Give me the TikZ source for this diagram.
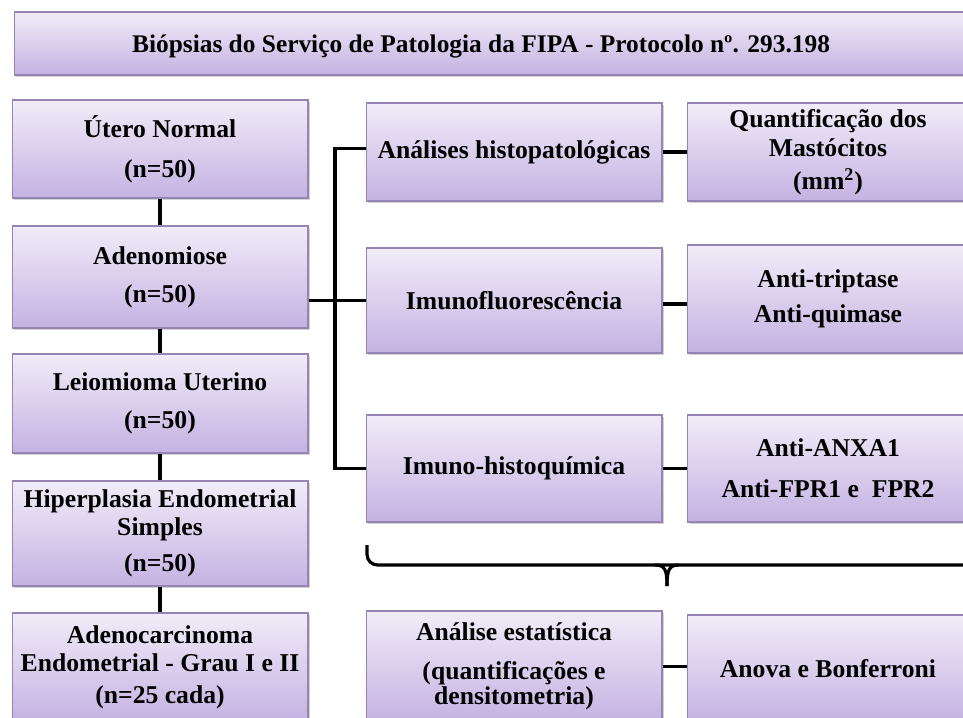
\documentclass[tikz,border=0pt]{standalone}
\usepackage{fontspec}
\setmainfont{Liberation Serif}
\usepackage{xcolor}
\usetikzlibrary{shadows,calc}

\definecolor{lilasclaro}{RGB}{241,236,248}
\definecolor{lilas}{RGB}{196,178,226}
\definecolor{bordalilas}{RGB}{150,132,180}

\tikzset{
  caixa/.style={rectangle, draw=bordalilas, line width=0.6pt,
    top color=lilasclaro, bottom color=lilas, inner sep=0pt, align=center,
    font=\fontsize{14.6}{15.9}\selectfont\bfseries,
    drop shadow={shadow xshift=1.2pt, shadow yshift=-1.2pt, opacity=0.35}},
  ligacao/.style={line width=1.8pt, black},
}

\begin{document}
\begin{tikzpicture}[x=0.02cm, y=-0.02cm]
\useasboundingbox (0,0) rectangle (963,717);
\clip (0,0) rectangle (963,717);

\node[caixa, minimum width=19.52cm, minimum height=1.26cm] (titulo) at (502,43.5) {};
\node[font=\fontsize{14.45}{16}\selectfont\bfseries, anchor=base] (titulotxt) at (481,52)
  {Biópsias do Serviço de Patologia da FIPA - Protocolo nº. 293.198};

% grupos de biópsias
\node[caixa, minimum width=5.92cm, minimum height=1.96cm] (utero) at (160,149) {Útero Normal\\[6.8pt](n=50)};
\node[caixa, minimum width=5.92cm, minimum height=2.04cm] (adeno) at (160,277) {Adenomiose\\[5.6pt](n=50)};
\node[caixa, minimum width=5.92cm, minimum height=1.98cm] (leio) at (160,403.5) {Leiomioma Uterino\\[5.6pt](n=50)};
\node[caixa, minimum width=5.92cm, minimum height=2.1cm] (hiper) at (160,533.5) {Hiperplasia Endometrial\\Simples\\[4.5pt](n=50)};
\node[caixa, minimum width=5.92cm, minimum height=2.18cm] (adenoca) at (160,667.5) {Adenocarcinoma\\Endometrial - Grau I e II\\[2.3pt](n=25 cada)};

% analises
\node[caixa, minimum width=5.92cm, minimum height=1.96cm] (histo) at (514,152) {Análises histopatológicas};
\node[caixa, minimum width=5.92cm, minimum height=2.1cm] (imunof) at (514,300.5) {Imunofluorescência};
\node[caixa, minimum width=5.92cm, minimum height=2.14cm] (imunoh) at (514,468.5) {Imuno-histoquímica};
\node[caixa, minimum width=5.92cm, minimum height=2.22cm] (estat) at (514,666.5) {Análise estatística\\[6.2pt](quantificações e\\[-1.7pt]densitometria)};

\node[caixa, minimum width=5.64cm, minimum height=1.96cm] (quant) at (828,152) {Quantificação dos\\[1pt]Mastócitos\\[2.8pt](mm\textsuperscript{2})};
\node[caixa, minimum width=5.64cm, minimum height=2.16cm] (trip) at (828,299) {Anti-triptase\\[4pt]Anti-quimase};
\node[caixa, minimum width=5.64cm, minimum height=2.14cm] (anx) at (828,468.5) {Anti-ANXA1\\[7.3pt]Anti-FPR1 e\ \ FPR2};
\node[caixa, minimum width=5.64cm, minimum height=2.14cm] (anova) at (828,668.5) {Anova e Bonferroni};

\foreach \a/\b in {utero/adeno, adeno/leio, leio/hiper, hiper/adenoca}
  \draw[ligacao] (\a) -- (\b);

\coordinate (barra) at (335,0);
\draw[ligacao] ([yshift=2pt]histo.west) -- ([yshift=2pt]histo.west -| barra) -- (imunoh.west -| barra) -- (imunoh.west);
\draw[ligacao] (adeno.east |- imunof.west) -- (imunof.west);

\draw[ligacao] (histo) -- (quant);
\draw[ligacao] ([yshift=-2pt]imunof.east) -- ([yshift=-2pt]imunof.east -| trip.west);
\draw[ligacao] (imunoh) -- (anx);
\draw[ligacao] (estat.east) -- (estat.east -| anova.west);

% chave
\coordinate (chaveesq) at (367,545);
\coordinate (chavebarra) at (967,565);
\coordinate (ponta) at (667,586);
\draw[ligacao, rounded corners=6] (chaveesq) -- (chaveesq |- chavebarra) -- (chavebarra);
\draw[ligacao] (655,565) .. controls (665,565) and (667,570) .. (ponta);
\draw[ligacao] (679,565) .. controls (669,565) and (667,570) .. (ponta);
\end{tikzpicture}
\end{document}
